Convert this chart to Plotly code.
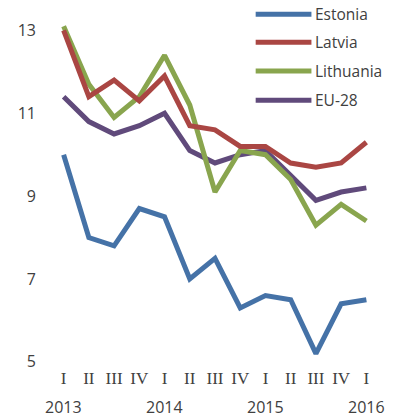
import plotly.graph_objects as go

# Quarterly series, 2013 Q1 .. 2016 Q1
quarters = ["I", "II", "III", "IV", "I", "II", "III", "IV", "I", "II", "III", "IV", "I"]
years = ["2013", "2014", "2015", "2016"]
year_positions = [0, 4, 8, 12]

estonia = [10.0, 8.0, 7.8, 8.7, 8.5, 7.0, 7.5, 6.3, 6.6, 6.5, 5.2, 6.4, 6.5]
latvia = [13.0, 11.4, 11.8, 11.3, 11.9, 10.7, 10.6, 10.2, 10.2, 9.8, 9.7, 9.8, 10.3]
lithuania = [13.1, 11.7, 10.9, 11.4, 12.4, 11.2, 9.1, 10.1, 10.0, 9.4, 8.3, 8.8, 8.4]
eu28 = [11.4, 10.8, 10.5, 10.7, 11.0, 10.1, 9.8, 10.0, 10.1, 9.5, 8.9, 9.1, 9.2]

series_names = ["Estonia", "Latvia", "Lithuania", "EU-28"]
series_values = [estonia, latvia, lithuania, eu28]
colors = ["#4572A7", "#AA4643", "#89A54E", "#604A7B"]

y_ticks = [5, 7, 9, 11, 13]
text_color = "#404040"
font_family = "Open Sans, DejaVu Sans, sans-serif"

x_idx = list(range(len(quarters)))

fig = go.Figure()
# Draw lines in reverse so Estonia sits on top
for name, vals, col in list(zip(series_names, series_values, colors))[::-1]:
    fig.add_trace(go.Scatter(
        x=x_idx, y=vals, mode="lines", name=name,
        line=dict(color=col, width=5, shape="linear"),
        showlegend=False,
    ))

# Hand-built legend (longer line samples than the native legend)
legend_y = [1.011, 0.930, 0.848, 0.764]
for name, col, ly in zip(series_names, colors, legend_y):
    fig.add_shape(type="line", xref="paper", yref="paper",
                  x0=0.624, x1=0.794, y0=ly, y1=ly,
                  line=dict(color=col, width=5))
    fig.add_annotation(x=0.800, y=ly, xref="paper", yref="paper",
                       text=name, showarrow=False, xanchor="left", yanchor="middle",
                       font=dict(size=15.5, color=text_color, family=font_family))

for yr, pos in zip(years, year_positions):
    fig.add_annotation(x=pos, y=-0.118, xref="x", yref="paper",
                       text=yr, showarrow=False, xanchor="center", yanchor="middle",
                       font=dict(size=16, color=text_color, family=font_family))

fig.update_xaxes(
    range=[-0.5, 12.5], tickmode="array", tickvals=x_idx, ticktext=quarters,
    showgrid=False, zeroline=False, showline=False, ticks="",
    tickfont=dict(size=17, color=text_color, family="Liberation Serif, serif"),
)
fig.update_yaxes(
    range=[4.9, 13.3], tickmode="array", tickvals=y_ticks,
    ticktext=[str(v) for v in y_ticks],
    showgrid=False, zeroline=False, showline=False, ticks="",
    ticklabelstandoff=14,
    tickfont=dict(size=16, color=text_color, family=font_family),
)
fig.update_layout(
    width=393, height=419,
    margin=dict(l=51, r=14, t=18, b=53),
    plot_bgcolor="white", paper_bgcolor="white",
)

fig.write_html("out.html")
